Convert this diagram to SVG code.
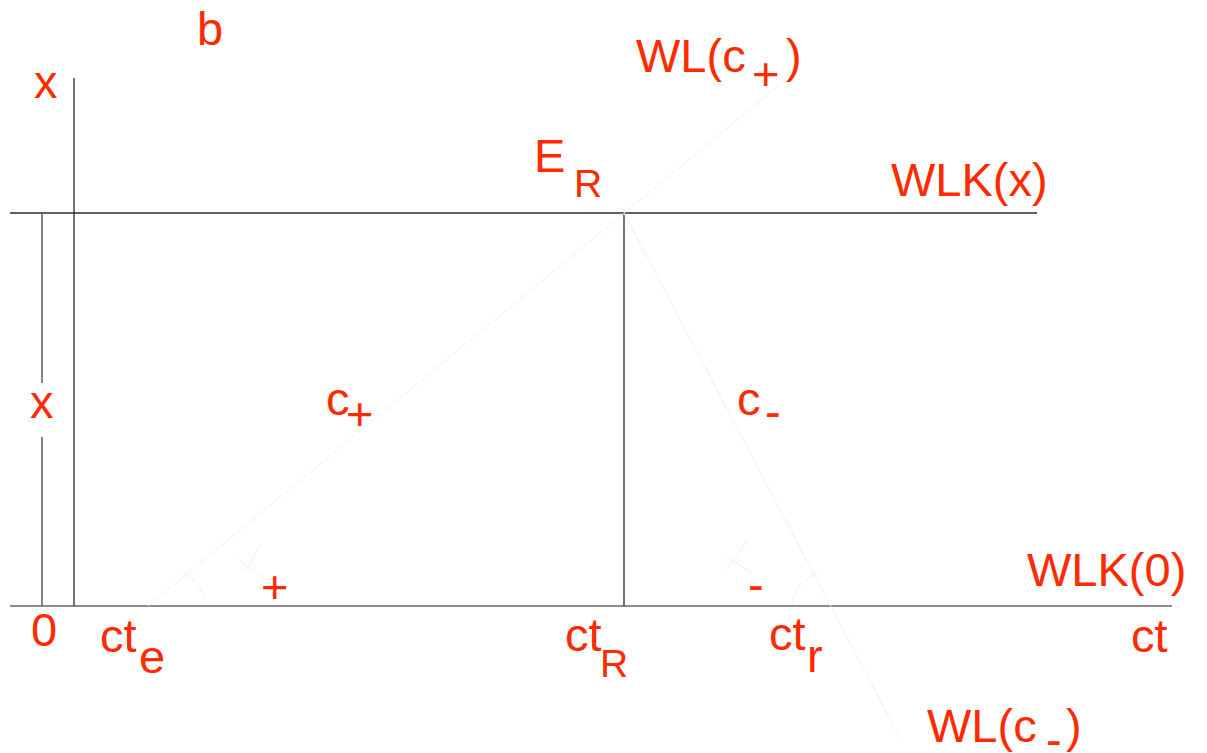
<svg xmlns="http://www.w3.org/2000/svg" width="1207" height="753" viewBox="0 0 1207 753">
<style>
.t{font-family:"Liberation Sans",Arial,sans-serif;font-size:47px;fill:#ff2a00}
.s{font-size:39px}
.ln{stroke:#2a2a2a;stroke-width:1.3;fill:none}
.gr{stroke:#666;stroke-width:1.6;fill:none}
.fa{stroke:#f0f0f0;stroke-width:1;fill:none}
.fp{stroke:#fdeae7;stroke-width:1;fill:none}
</style>
<rect width="1207" height="753" fill="#fff"/>
<g id="lines">
<line class="ln" x1="10" y1="213" x2="1037" y2="213"/>
<line class="gr" x1="10" y1="606" x2="1172" y2="606"/>
<line class="ln" x1="74" y1="78" x2="74" y2="606"/>
<line class="gr" x1="42" y1="213" x2="42" y2="383"/>
<line class="gr" x1="42" y1="437" x2="42" y2="606"/>
<line class="ln" x1="624" y1="213" x2="624" y2="606"/>
<line class="fa" x1="148" y1="606" x2="783" y2="82"/>
<line class="fa" x1="624" y1="213" x2="900" y2="738"/>
<path class="fa" d="M183,572 A48,48 0 0 1 206,604"/>
<path class="fa" d="M820,573 A37,37 0 0 0 792,604"/>
<path class="fp" d="M260,545 Q250,565 242,573 M238,559 L264,578"/>
<path class="fp" d="M747,540 Q735,560 725,570 M725,555 L752,573"/>
</g>
<g id="labels">
<text class="t" x="197" y="45">b</text>
<text class="t" x="34" y="98">x</text>
<text class="t" x="30" y="418">x</text>
<text class="t" x="636" y="72">WL(c</text>
<text class="t" x="752" y="90">+</text>
<text class="t" x="786" y="72">)</text>
<text class="t" x="534" y="172">E</text>
<text class="t s" x="574" y="197">R</text>
<text class="t" x="891" y="196">WLK(x)</text>
<text class="t" x="326" y="415">c</text>
<text class="t" x="346" y="430">+</text>
<text class="t" x="737" y="415">c</text>
<text class="t" x="765" y="428">-</text>
<text class="t" x="261" y="603">+</text>
<text class="t" x="748" y="601">-</text>
<text class="t" x="1027" y="586">WLK(0)</text>
<text class="t" x="31" y="646">0</text>
<text class="t" x="100" y="652">ct</text>
<text class="t" x="139" y="673">e</text>
<text class="t" x="565" y="651">ct</text>
<text class="t s" x="600" y="677">R</text>
<text class="t" x="769" y="650">ct</text>
<text class="t" x="807" y="672">r</text>
<text class="t" x="1131" y="652">ct</text>
<text class="t" x="927" y="742">WL(c</text>
<text class="t" x="1046" y="756">-</text>
<text class="t" x="1066" y="742">)</text>
</g>
</svg>
